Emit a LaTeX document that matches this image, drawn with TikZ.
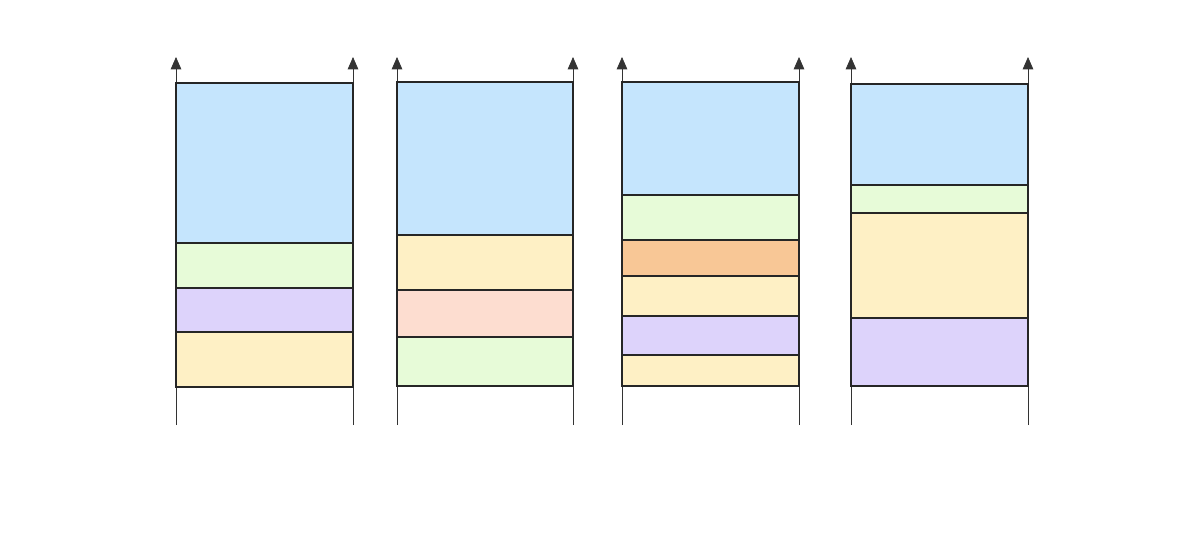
\documentclass[tikz,border=0pt]{standalone}
\usetikzlibrary{arrows.meta}
\definecolor{cblue}{HTML}{C5E5FD}
\definecolor{cgreen}{HTML}{E7FBD8}
\definecolor{cpurple}{HTML}{DDD3FB}
\definecolor{cyellow}{HTML}{FEF0C5}
\definecolor{csalmon}{HTML}{FDDDD0}
\definecolor{corange}{HTML}{F8C796}
\tikzset{
  axis/.style={draw=black!80,thin,-{Triangle[length=7pt,width=6pt]}},
  layer/.style={draw=black!85,line width=0.7pt}
}
\begin{document}
\begin{tikzpicture}[x=0.02cm,y=-0.02cm]
\useasboundingbox (0,0) rectangle (1200,554);
% axes
\foreach \xa/\xb in {176/353,397/573,622/799,851/1028}{
  \coordinate (la) at (\xa,425); \coordinate (lb) at (\xa,57);
  \coordinate (ra) at (\xb,425); \coordinate (rb) at (\xb,57);
  \draw[axis] (la) -- (lb);
  \draw[axis] (ra) -- (rb);
}
% first stack
\foreach \ya/\yb/\col in {83/243/cblue,243/288/cgreen,288/332/cpurple,332/387/cyellow}
  \draw[layer,fill=\col] (176,\ya) rectangle (353,\yb);
% second stack
\foreach \ya/\yb/\col in {82/235/cblue,235/290/cyellow,290/337/csalmon,337/386/cgreen}
  \draw[layer,fill=\col] (397,\ya) rectangle (573,\yb);
% third stack
\foreach \ya/\yb/\col in {82/195/cblue,195/240/cgreen,240/276/corange,276/316/cyellow,316/355/cpurple,355/386/cyellow}
  \draw[layer,fill=\col] (622,\ya) rectangle (799,\yb);
% fourth stack
\foreach \ya/\yb/\col in {84/185/cblue,185/213/cgreen,213/318/cyellow,318/386/cpurple}
  \draw[layer,fill=\col] (851,\ya) rectangle (1028,\yb);
\end{tikzpicture}
\end{document}
